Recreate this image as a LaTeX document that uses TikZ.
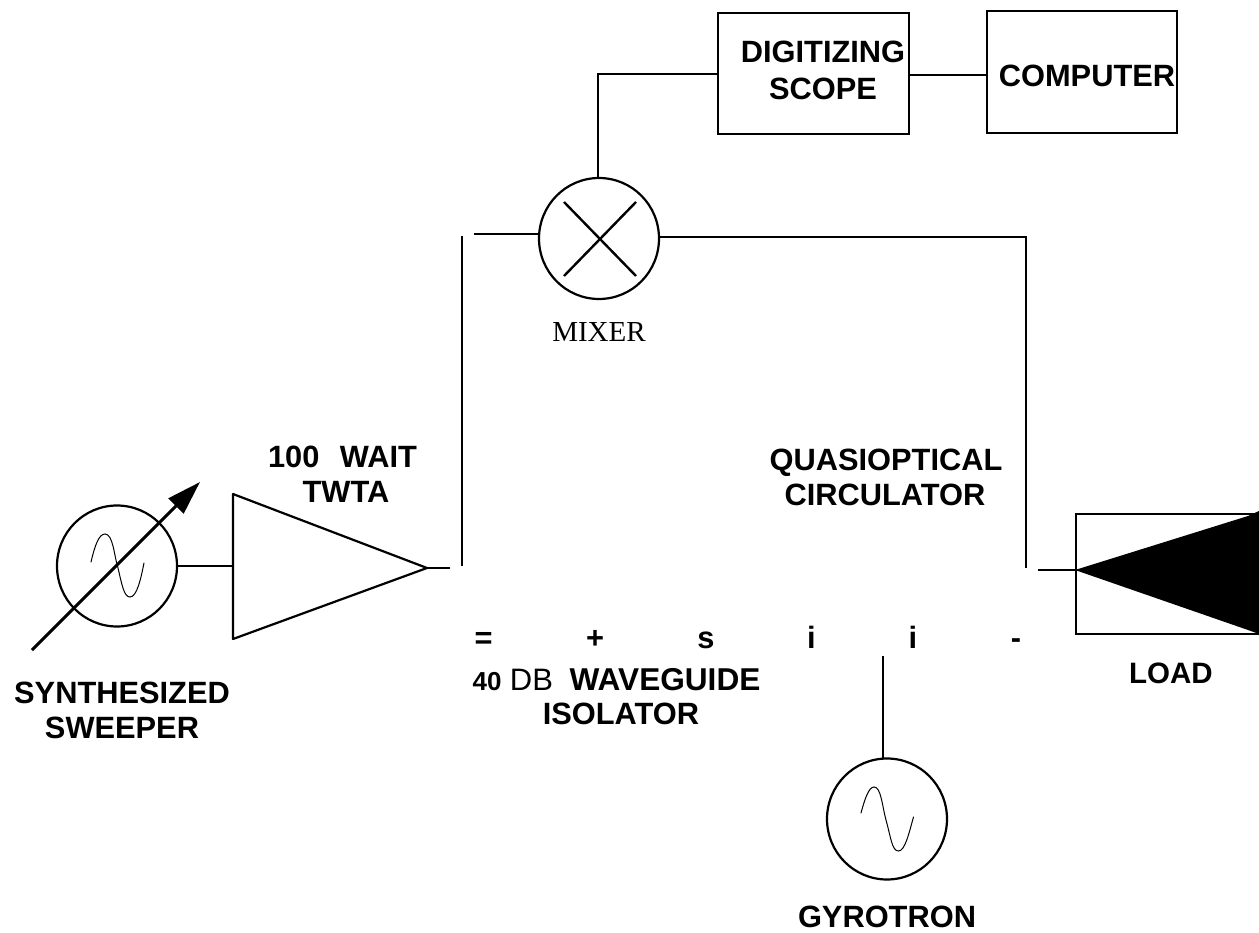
\documentclass[tikz,border=0pt]{standalone}
\usepackage{fontspec}
\setmainfont{Liberation Sans}
\newfontfamily\serifface{Liberation Serif}
\usetikzlibrary{arrows.meta,shapes.geometric}
\tikzset{
  x=1pt,y=-1pt,
  lbl/.style={anchor=base,inner sep=0pt,font=\fontsize{30.8}{30.8}\selectfont\bfseries},
  wire/.style={draw=black,line width=2.2pt},
  thinwire/.style={draw=black,line width=1.6pt},
  heavywire/.style={draw=black,line width=2.8pt},
  osc/.style={draw=black,line width=2.2pt,ellipse,inner sep=0pt,minimum width=120pt,minimum height=121pt},
  boxed/.style={draw=black,line width=2.2pt,rectangle,inner sep=0pt,anchor=north west},
  sine/.style={draw=black,line width=1pt,line cap=round},
}
\begin{document}
\begin{tikzpicture}
\useasboundingbox (0,0) rectangle (1259,933);
% coordinates
\coordinate (tA) at (233,494);
\coordinate (tB) at (233,639);
\coordinate (tC) at (427,568);
\coordinate (tOut) at (450,568);
\coordinate (aS) at (32,650);
\coordinate (aE) at (200,482);
\coordinate (vlT) at (462,236);
\coordinate (vlB) at (462,566);
\coordinate (mixL) at (474,234);
\coordinate (cor1) at (598,74);
\coordinate (cor2) at (1026,237);
\coordinate (vrB) at (1026,568);
\coordinate (loadIn) at (1038,570);
\coordinate (loadTip) at (1075,570);
\coordinate (gyT) at (883,656);
\coordinate (gyB) at (883,759);
\coordinate (link) at (950,75);
\coordinate (xA) at (564,202);
\coordinate (xB) at (636,276);
\coordinate (xC) at (636,202);
\coordinate (xD) at (564,276);
% nodes
\node[osc] (sweep) at (117,566) {};
\node[osc] (mixer) at (599,238.5) {};
\node[osc] (gyro) at (887,819) {};
\node[boxed,minimum width=191pt,minimum height=121pt] (scope) at (717,12) {};
\node[boxed,minimum width=190pt,minimum height=122pt] (comp) at (986,10) {};
\node[boxed,minimum width=190pt,minimum height=120pt] (load) at (1075,513) {};
% amplifier
\draw[wire,line join=round] (tA) -- (tC) -- (tB) -- cycle;
% load wedge
\fill[black] (loadTip) -- (1248,516) -- (1259,511) -- (1259,634) -- (1248,630) -- cycle;
% connectors
\draw[wire] (sweep.east) -- (tA |- sweep.east);
\draw[wire] (tC) -- (tOut);
\draw[wire] (vlT) -- (vlB);
\draw[thinwire] (mixL) -- (mixer.west |- mixL);
\draw[heavywire] (mixer.east |- cor2) -- (cor2) -- (vrB);
\draw[thinwire] (mixer.north -| cor1) -- (cor1) -- (scope.west |- cor1);
\draw[wire] (scope.east |- link) -- (comp.west |- link);
\draw[wire] (loadIn) -- (loadTip);
\draw[wire] (gyT) -- (gyB);
% mixer cross
\draw[line width=2.4pt] (xA) -- (xB) (xC) -- (xD);
% tunable arrow
\draw[line width=3pt,-{Triangle[length=34pt,width=21pt]}] (aS) -- (aE);
% sines
\draw[sine] (91,562) .. controls (95,545) and (99,534) .. (105,534) .. controls (113,534) and (114,555) .. (118,568) .. controls (122,585) and (124,597) .. (130,597) .. controls (137,597) and (141,578) .. (144,563);
\draw[sine] (861,813) .. controls (865,798) and (869,787) .. (874,787) .. controls (881,787) and (882,805) .. (886,820) .. controls (891,838) and (892,851) .. (898.5,851) .. controls (905,851) and (909,833) .. (913.5,817);
% labels
\node[lbl] (l100) at (342.5,467) {100\hspace{12pt} WAIT};
\node[lbl] (ltwta) at (346,502) {TWTA};
\node[lbl] (lsyn) at (122,703) {SYNTHESIZED};
\node[lbl] (lswe) at (122,738) {SWEEPER};
\node[lbl] (ldig) at (823,63) {DIGITIZING};
\node[lbl] (lsco) at (823,100) {SCOPE};
\node[lbl] (lcom) at (1087,87) {COMPUTER};
\node[lbl,font=\fontsize{29}{29}\selectfont\serifface] (lmix) at (599,342) {MIXER};
\node[lbl] (lqua) at (886,470) {QUASIOPTICAL};
\node[lbl] (lcir) at (885,505) {CIRCULATOR};
\node[lbl,font=\fontsize{29.5}{29.5}\selectfont\bfseries] (lload) at (1171,683) {LOAD};
\node[lbl] (e1) at (483.5,648) {=};
\node[lbl] (e2) at (595,648) {+};
\node[lbl] (e3) at (706,648) {s};
\node[lbl] (e4) at (811.5,648) {i};
\node[lbl] (e5) at (913,648) {i};
\node[lbl] (e6) at (1016,648) {-};
\node[lbl,font=\fontsize{26}{26}\selectfont\bfseries] (l40) at (487,690) {40};
\node[lbl,font=\fontsize{31}{31}\selectfont] (ldb) at (531.5,690) {DB};
\node[lbl,font=\fontsize{31.6}{31.6}\selectfont\bfseries] (lwav) at (665,690) {WAVEGUIDE};
\node[lbl] (liso) at (621,724) {ISOLATOR};
\node[lbl] (lgyr) at (887,927) {GYROTRON};
\end{tikzpicture}
\end{document}
